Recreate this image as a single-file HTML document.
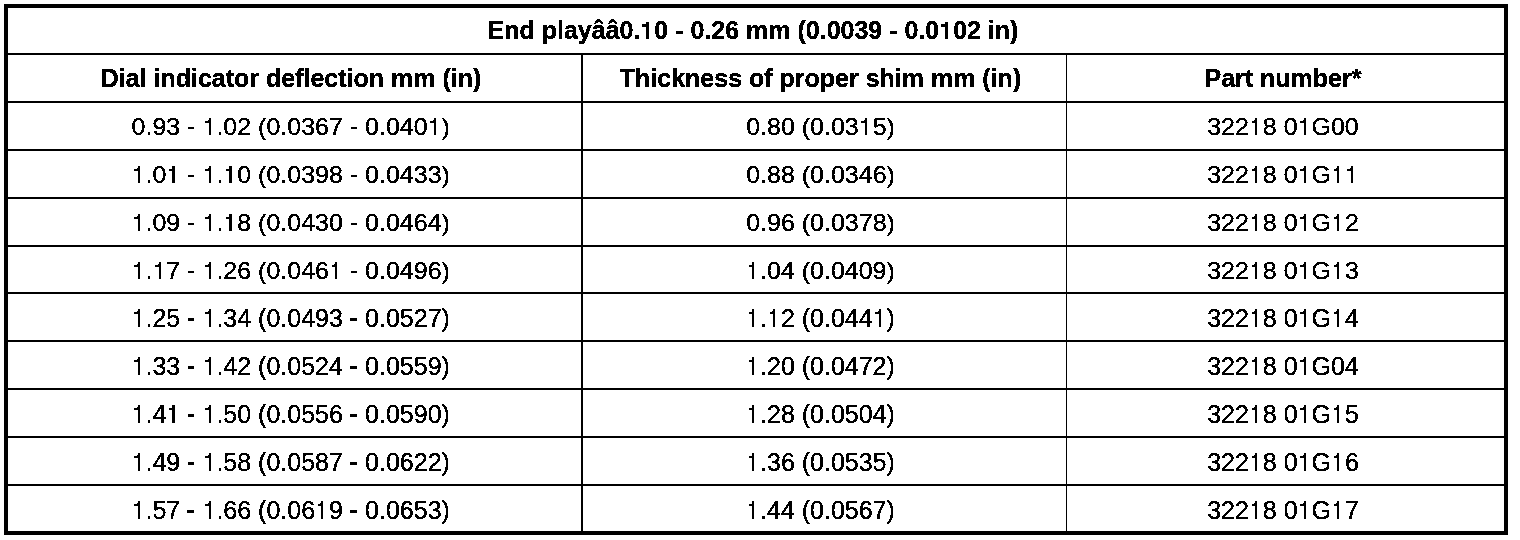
<!DOCTYPE html>
<html><head><meta charset="utf-8"><title>End play shim table</title>
<style>
html,body{margin:0;padding:0;background:#fff;}
body{width:1520px;height:540px;position:relative;overflow:hidden;font-family:"Liberation Sans",sans-serif;color:#000;}
.b{position:absolute;background:#000;}
.t{position:absolute;filter:url(#th);width:800px;margin-left:-400px;text-align:center;font-size:25px;line-height:25px;height:25px;white-space:pre;}
.bd{font-weight:bold;}
.o{position:relative;color:transparent;}
.o::before,.o::after{content:"";position:absolute;background:#000;}
.o::before{left:6.1px;top:4.63px;width:2.2px;height:18px;}
.o::after{left:2.6px;top:6.63px;width:3.8px;height:3px;background:linear-gradient(to right,transparent calc(100% - 1px),#000 0) top/100% 1px no-repeat,linear-gradient(#000,#000) bottom/100% 2px no-repeat;}
.bd .o::before{left:5.8px;top:5.63px;width:3.2px;height:17px;}
.h{position:relative;color:transparent;}
.h::before{content:"";position:absolute;background:#000;left:0.3px;top:13.6px;width:6.6px;height:3px;}
.h2::before{height:1.6px;width:6px;left:1.2px;top:14.7px;}
.bd .o::after{left:1.6px;top:7.63px;width:4.4px;height:3px;background:#000;}
</style></head><body>
<svg width="0" height="0" style="position:absolute"><filter id="th" x="-5%" y="-60%" width="110%" height="220%"><feComponentTransfer><feFuncA type="discrete" tableValues="0 1 1 1"/></feComponentTransfer></filter></svg>

<div class="b" style="left:4px;top:4px;width:1504px;height:4px"></div>
<div class="b" style="left:4px;top:531px;width:1504px;height:4px"></div>
<div class="b" style="left:4px;top:4px;width:4px;height:531px"></div>
<div class="b" style="left:1504px;top:4px;width:4px;height:531px"></div>
<div class="b" style="left:8px;top:53px;width:1496px;height:2px"></div>
<div class="b" style="left:8px;top:101px;width:1496px;height:2px"></div>
<div class="b" style="left:8px;top:149px;width:1496px;height:2px"></div>
<div class="b" style="left:8px;top:197px;width:1496px;height:2px"></div>
<div class="b" style="left:8px;top:245px;width:1496px;height:2px"></div>
<div class="b" style="left:8px;top:292px;width:1496px;height:2px"></div>
<div class="b" style="left:8px;top:340px;width:1496px;height:2px"></div>
<div class="b" style="left:8px;top:388px;width:1496px;height:2px"></div>
<div class="b" style="left:8px;top:436px;width:1496px;height:2px"></div>
<div class="b" style="left:8px;top:484px;width:1496px;height:2px"></div>
<div class="b" style="left:581px;top:55px;width:2px;height:476px"></div>
<div class="b" style="left:1066px;top:55px;width:1px;height:476px"></div>
<div class="t bd" style="left:753px;top:18px">End playââ0.<span class="o">1</span>0 - 0.26 mm (0.0039 - 0.0<span class="o">1</span>02 in)</div>
<div class="t bd" style="left:291px;top:66px">Dial indicator deflection mm (in)</div>
<div class="t bd" style="left:820.5px;top:66px">Thickness of proper shim mm (in)</div>
<div class="t bd" style="left:1283px;top:66px">Part number*</div>
<div class="t" style="left:290.75px;top:115px;transform:scaleY(0.945);transform-origin:50% 3px">0.93 <span class="h h2">-</span> <span class="o">1</span>.02 (0.0367 <span class="h h2">-</span> 0.040<span class="o">1</span>)</div>
<div class="t" style="left:820.5px;top:115px;transform:scaleY(0.945);transform-origin:50% 3px">0.80 (0.03<span class="o">1</span>5)</div>
<div class="t" style="left:1283px;top:115px;transform:scaleY(0.945);transform-origin:50% 3px">322<span class="o">1</span>8 0<span class="o">1</span>G00</div>
<div class="t" style="left:290.75px;top:163px;transform:scaleY(0.945);transform-origin:50% 3px"><span class="o">1</span>.0<span class="o">1</span> <span class="h h2">-</span> <span class="o">1</span>.<span class="o">1</span>0 (0.0398 <span class="h h2">-</span> 0.0433)</div>
<div class="t" style="left:820.5px;top:163px;transform:scaleY(0.945);transform-origin:50% 3px">0.88 (0.0346)</div>
<div class="t" style="left:1283px;top:163px;transform:scaleY(0.945);transform-origin:50% 3px">322<span class="o">1</span>8 0<span class="o">1</span>G<span class="o">1</span><span class="o">1</span></div>
<div class="t" style="left:290.75px;top:211px;transform:scaleY(0.945);transform-origin:50% 3px"><span class="o">1</span>.09 <span class="h h2">-</span> <span class="o">1</span>.<span class="o">1</span>8 (0.0430 <span class="h h2">-</span> 0.0464)</div>
<div class="t" style="left:820.5px;top:211px;transform:scaleY(0.945);transform-origin:50% 3px">0.96 (0.0378)</div>
<div class="t" style="left:1283px;top:211px;transform:scaleY(0.945);transform-origin:50% 3px">322<span class="o">1</span>8 0<span class="o">1</span>G<span class="o">1</span>2</div>
<div class="t" style="left:290.75px;top:259px;transform:scaleY(0.945);transform-origin:50% 3px"><span class="o">1</span>.<span class="o">1</span>7 <span class="h h2">-</span> <span class="o">1</span>.26 (0.046<span class="o">1</span> <span class="h h2">-</span> 0.0496)</div>
<div class="t" style="left:820.5px;top:259px;transform:scaleY(0.945);transform-origin:50% 3px"><span class="o">1</span>.04 (0.0409)</div>
<div class="t" style="left:1283px;top:259px;transform:scaleY(0.945);transform-origin:50% 3px">322<span class="o">1</span>8 0<span class="o">1</span>G<span class="o">1</span>3</div>
<div class="t" style="left:290.75px;top:306px"><span class="o">1</span>.25 <span class="h">-</span> <span class="o">1</span>.34 (0.0493 <span class="h">-</span> 0.0527)</div>
<div class="t" style="left:820.5px;top:306px"><span class="o">1</span>.<span class="o">1</span>2 (0.044<span class="o">1</span>)</div>
<div class="t" style="left:1283px;top:306px">322<span class="o">1</span>8 0<span class="o">1</span>G<span class="o">1</span>4</div>
<div class="t" style="left:290.75px;top:354px"><span class="o">1</span>.33 <span class="h">-</span> <span class="o">1</span>.42 (0.0524 <span class="h">-</span> 0.0559)</div>
<div class="t" style="left:820.5px;top:354px"><span class="o">1</span>.20 (0.0472)</div>
<div class="t" style="left:1283px;top:354px">322<span class="o">1</span>8 0<span class="o">1</span>G04</div>
<div class="t" style="left:290.75px;top:402px"><span class="o">1</span>.4<span class="o">1</span> <span class="h">-</span> <span class="o">1</span>.50 (0.0556 <span class="h">-</span> 0.0590)</div>
<div class="t" style="left:820.5px;top:402px"><span class="o">1</span>.28 (0.0504)</div>
<div class="t" style="left:1283px;top:402px">322<span class="o">1</span>8 0<span class="o">1</span>G<span class="o">1</span>5</div>
<div class="t" style="left:290.75px;top:450px"><span class="o">1</span>.49 <span class="h">-</span> <span class="o">1</span>.58 (0.0587 <span class="h">-</span> 0.0622)</div>
<div class="t" style="left:820.5px;top:450px"><span class="o">1</span>.36 (0.0535)</div>
<div class="t" style="left:1283px;top:450px">322<span class="o">1</span>8 0<span class="o">1</span>G<span class="o">1</span>6</div>
<div class="t" style="left:290.75px;top:498px"><span class="o">1</span>.57 <span class="h">-</span> <span class="o">1</span>.66 (0.06<span class="o">1</span>9 <span class="h">-</span> 0.0653)</div>
<div class="t" style="left:820.5px;top:498px"><span class="o">1</span>.44 (0.0567)</div>
<div class="t" style="left:1283px;top:498px">322<span class="o">1</span>8 0<span class="o">1</span>G<span class="o">1</span>7</div>
</body></html>
